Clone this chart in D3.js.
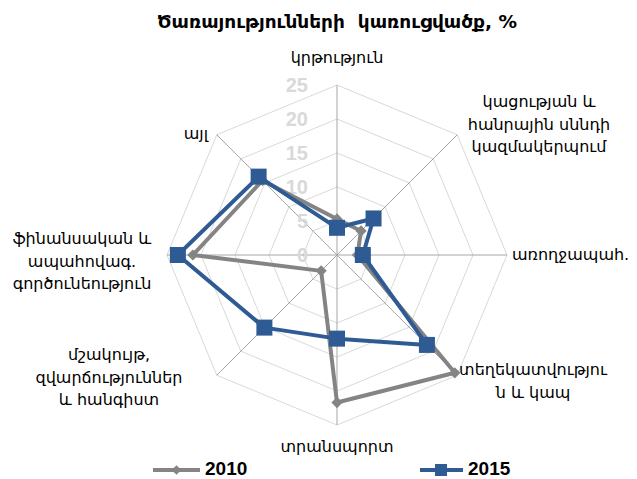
<!DOCTYPE html>
<html><head><meta charset="utf-8">
<script src="https://cdn.jsdelivr.net/npm/d3@7"></script>
<style>body{margin:0;background:#fff}svg{display:block}</style>
</head><body>
<svg id="c" width="637" height="479"></svg>
<script>
const title = "Ծառայությունների  կառուցվածք, %";
const categories = [
  ["կրթություն"],
  ["կացության և", "հանրային սննդի", "կազմակերպում"],
  ["առողջապահ."],
  ["տեղեկատվությու", "ն և կապ"],
  ["տրանսպորտ"],
  ["մշակույթ,", "զվարճություններ", "և հանգիստ"],
  ["ֆինանսական և", "ապահովագ.", "գործունեություն"],
  ["այլ"]
];
const seriesNames = ["2010", "2015"];
const values2010 = [5.3, 5.0, 3.0, 24.5, 21.7, 3.3, 21.2, 15.5];
const values2015 = [4.0, 7.6, 3.8, 18.7, 12.3, 15.1, 23.4, 16.3];
const ticks = [0, 5, 10, 15, 20, 25];

const svg = d3.select("#c");
const cx = 337, cy = 255, R = 170;
const r = d3.scaleLinear().domain([0, 25]).range([0, R]);
const n = categories.length;
const ang = i => i * 2 * Math.PI / n;
const px = (i, v) => cx + r(v) * Math.sin(ang(i));
const py = (i, v) => cy - r(v) * Math.cos(ang(i));

// title
svg.append("text").attr("x", 337).attr("y", 28).attr("text-anchor", "middle")
  .attr("font-family", "DejaVu Sans").attr("font-weight", "bold").attr("font-size", 18.5)
  .attr("fill", "#000").style("white-space", "pre").text(title);

const g = svg.append("g");
// grid octagons
ticks.filter(t => t > 0).forEach(t => {
  g.append("path")
    .attr("d", d3.lineRadial().angle((d, i) => ang(i)).radius(() => r(t)).curve(d3.curveLinearClosed)(categories))
    .attr("transform", `translate(${cx},${cy})`)
    .attr("fill", "none").attr("stroke", "#d9d9d9").attr("stroke-width", 1);
});
// spokes
categories.forEach((c, i) => {
  g.append("line").attr("x1", cx).attr("y1", cy).attr("x2", px(i, 25)).attr("y2", py(i, 25))
    .attr("stroke", "#a6a6a6").attr("stroke-width", 1);
});
// tick labels
ticks.forEach(t => {
  g.append("text").attr("x", cx - 29).attr("y", cy - r(t)).attr("dy", "0.36em")
    .attr("text-anchor", "end").attr("font-family", "Liberation Sans").attr("font-weight", "bold")
    .attr("font-size", 20).attr("fill", "#d9d9d9").text(t);
});

// series
const line = d3.lineRadial().angle((d, i) => ang(i)).radius(d => r(d)).curve(d3.curveLinearClosed);
const gray = "#848484", blue = "#2f5b94";
g.append("path").attr("d", line(values2010)).attr("transform", `translate(${cx},${cy})`)
  .attr("fill", "none").attr("stroke", gray).attr("stroke-width", 4).attr("stroke-linejoin", "round");
values2010.forEach((v, i) => {
  g.append("path").attr("d", d3.symbol(d3.symbolDiamond2, 80)())
    .attr("transform", `translate(${px(i, v)},${py(i, v)})`).attr("fill", gray);
});
g.append("path").attr("d", line(values2015)).attr("transform", `translate(${cx},${cy})`)
  .attr("fill", "none").attr("stroke", blue).attr("stroke-width", 4).attr("stroke-linejoin", "round");
values2015.forEach((v, i) => {
  g.append("rect").attr("x", px(i, v) - 8).attr("y", py(i, v) - 8).attr("width", 16).attr("height", 16)
    .attr("fill", blue);
});

// category labels
const labelPos = [
  {x: 337, y: 63, a: "middle"},
  {x: 539, y: 107, a: "middle"},
  {x: 512, y: 260, a: "start"},
  {x: 533, y: 375, a: "middle"},
  {x: 337, y: 452, a: "middle"},
  {x: 109, y: 360, a: "middle"},
  {x: 82, y: 244, a: "middle"},
  {x: 208, y: 139, a: "end"}
];
categories.forEach((lines, i) => {
  const t = svg.append("text").attr("text-anchor", labelPos[i].a)
    .attr("font-family", "DejaVu Sans").attr("font-size", 16).attr("fill", "#000");
  lines.forEach((l, k) => {
    t.append("tspan").attr("x", labelPos[i].x).attr("y", labelPos[i].y + k * 22.5).text(l);
  });
});

// legend
const lg = svg.append("g");
lg.append("line").attr("x1", 153).attr("x2", 200).attr("y1", 470).attr("y2", 470).attr("stroke", gray).attr("stroke-width", 4);
lg.append("path").attr("d", d3.symbol(d3.symbolDiamond2, 60)()).attr("transform", "translate(176.5,470)").attr("fill", gray);
lg.append("text").attr("x", 205).attr("y", 475).attr("font-family", "Liberation Sans").attr("font-weight", "bold")
  .attr("font-size", 19).text(seriesNames[0]);
lg.append("line").attr("x1", 420).attr("x2", 463).attr("y1", 470).attr("y2", 470).attr("stroke", blue).attr("stroke-width", 4);
lg.append("rect").attr("x", 435).attr("y", 464).attr("width", 12).attr("height", 12).attr("fill", blue);
lg.append("text").attr("x", 468).attr("y", 475).attr("font-family", "Liberation Sans").attr("font-weight", "bold")
  .attr("font-size", 19).text(seriesNames[1]);
</script>
</body></html>
